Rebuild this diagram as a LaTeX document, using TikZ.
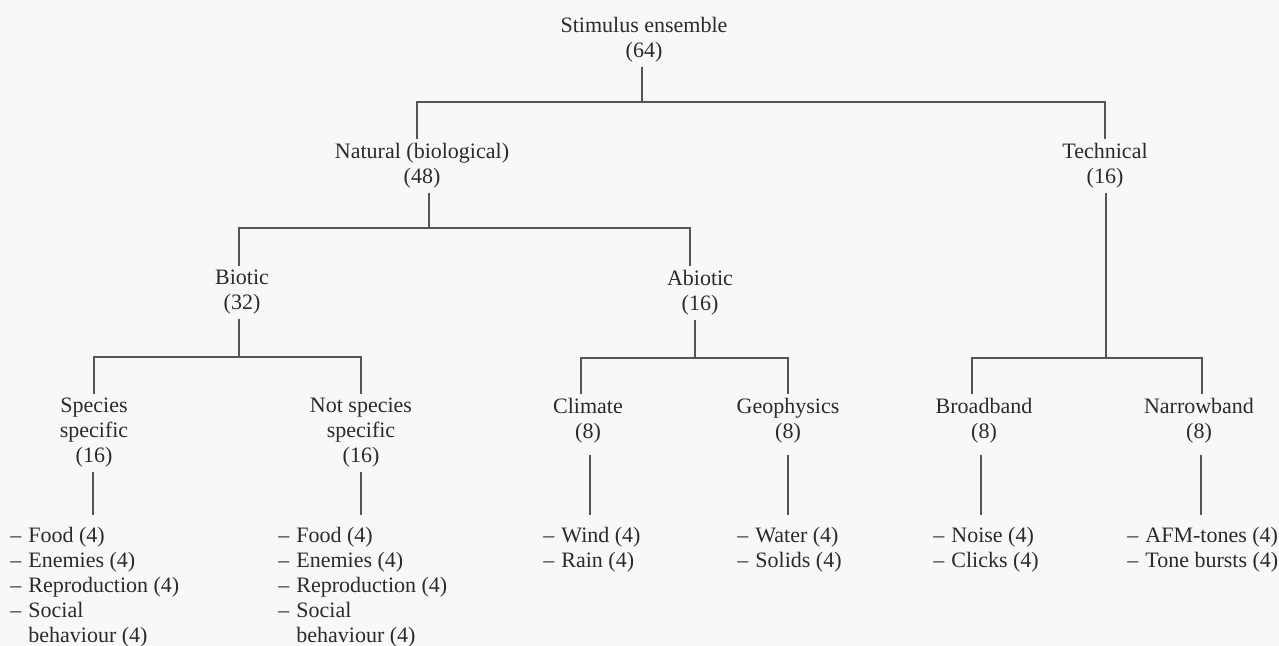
\documentclass[tikz,border=0pt]{standalone}
\usepackage{fontspec}
\setmainfont{Liberation Serif}
\newcommand\dsh{–\kern3.5pt}
\definecolor{textc}{HTML}{2A2A2A}
\definecolor{linec}{HTML}{555555}
\definecolor{bgc}{HTML}{F8F8F8}
\begin{document}
\begin{tikzpicture}[x=0.5pt,y=-0.5pt,
  conn/.style={draw=linec, line width=0.7pt},
  lbl/.style={align=center, inner sep=2pt, anchor=north, text=textc,
    font=\fontsize{11}{12.5}\selectfont},
  lst/.style={align=left, inner sep=2pt, anchor=north west, text=textc,
    font=\fontsize{11}{12.5}\selectfont},
  leaf/.style={conn, shorten >=4pt},
  leafs/.style={conn, shorten >=4pt, shorten <=3.5pt}]
\fill[bgc] (0,0) rectangle (1279,646);
\useasboundingbox (0,0) rectangle (1279,646);

% nodes
\node[lbl] (root) at (644,13) {Stimulus ensemble\\(64)};
\node[lbl] (natural) at (422,139) {Natural (biological)\\(48)};
\node[lbl] (technical) at (1105,139) {Technical\\(16)};
\node[lbl] (biotic) at (242,266) {Biotic\\(32)};
\node[lbl] (abiotic) at (700,266) {Abiotic\\(16)};
\node[lbl] (species) at (94,394) {Species\\specific\\(16)};
\node[lbl] (notspecies) at (361,394) {Not species\\specific\\(16)};
\node[lbl] (climate) at (588,394) {Climate\\(8)};
\node[lbl] (geophysics) at (788,394) {Geophysics\\(8)};
\node[lbl] (broadband) at (984,394) {Broadband\\(8)};
\node[lbl] (narrowband) at (1199,394) {Narrowband\\(8)};

\node[lst] (splist) at (6,523) {\dsh Food (4)\\\dsh Enemies (4)\\\dsh Reproduction (4)\\\dsh Social\\\phantom{\dsh}behaviour (4)};
\node[lst] (nsplist) at (274,523) {\dsh Food (4)\\\dsh Enemies (4)\\\dsh Reproduction (4)\\\dsh Social\\\phantom{\dsh}behaviour (4)};
\node[lst] (cllist) at (539,523) {\dsh Wind (4)\\\dsh Rain (4)};
\node[lst] (geolist) at (733,523) {\dsh Water (4)\\\dsh Solids (4)};
\node[lst] (bblist) at (929,523) {\dsh Noise (4)\\\dsh Clicks (4)};
\node[lst] (nblist) at (1123,523) {\dsh AFM-tones (4)\\\dsh Tone bursts (4)};

% junctions
\coordinate (j0) at (642,102);
\coordinate (j1) at (429,228);
\coordinate (j2) at (239,357);
\coordinate (j3) at (695,358);
\coordinate (j4) at (1106,358);

% connectors
\draw[conn] (root.south -| j0) -- (j0);
\draw[conn] ([xshift=-2.5pt]natural.north) |- (j0) -| (technical.north);

\draw[conn] (natural.south -| j1) -- (j1);
\draw[conn] ([xshift=-1.5pt]biotic.north) |- (j1) -| ([xshift=-5pt]abiotic.north);

\draw[conn] (biotic.south -| j2) -- (j2);
\draw[conn] (species.north) |- (j2) -| (notspecies.north);

\draw[conn] (abiotic.south -| j3) -- (j3);
\draw[conn] ([xshift=-3.5pt]climate.north) |- (j3) -| (geophysics.north);

\draw[conn] (technical.south -| j4) -- (j4);
\draw[conn] ([xshift=-6pt]broadband.north) |- (j4) -| ([xshift=1.5pt]narrowband.north);

% leaf lists
\draw[leaf] ([xshift=-0.5pt]species.south) -- ([xshift=-0.5pt]species.south |- splist.north);
\draw[leaf] (notspecies.south) -- (notspecies.south |- nsplist.north);
\draw[leafs] ([xshift=1pt]climate.south) -- ([xshift=1pt]climate.south |- cllist.north);
\draw[leafs] (geophysics.south) -- (geophysics.south |- geolist.north);
\draw[leafs] ([xshift=-1.5pt]broadband.south) -- ([xshift=-1.5pt]broadband.south |- bblist.north);
\draw[leafs] ([xshift=1pt]narrowband.south) -- ([xshift=1pt]narrowband.south |- nblist.north);
\end{tikzpicture}
\end{document}
